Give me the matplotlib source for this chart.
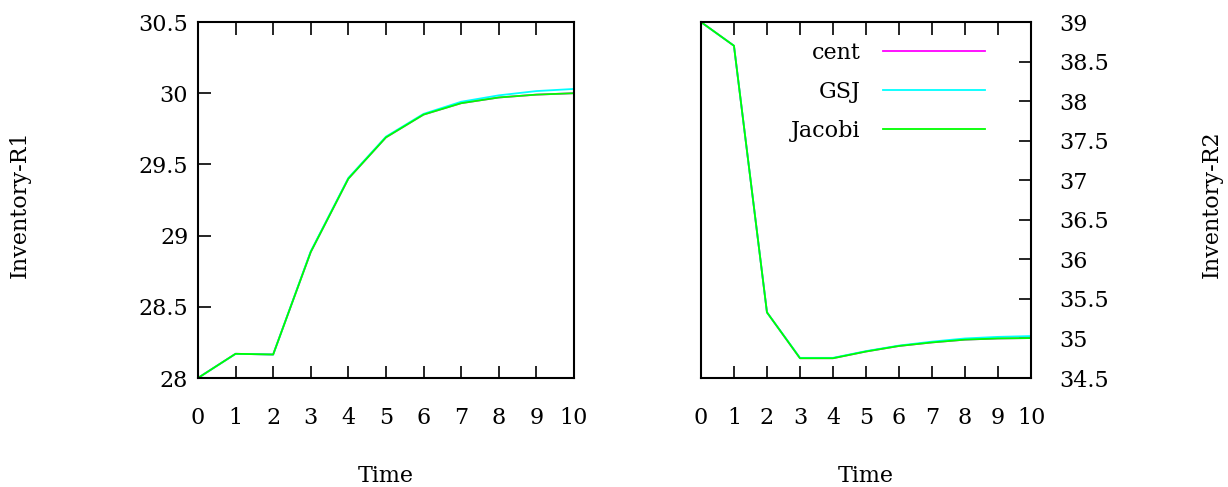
import matplotlib
matplotlib.use("Agg")
import matplotlib.pyplot as plt

time = [0, 1, 2, 3, 4, 5, 6, 7, 8, 9, 10]

# Inventory R1
r1_cent = [28.0, 28.17, 28.165, 28.885, 29.40, 29.69, 29.85, 29.93, 29.97, 29.99, 30.0]
r1_gsj = [28.0, 28.17, 28.165, 28.89, 29.405, 29.695, 29.855, 29.94, 29.985, 30.015, 30.03]
r1_jacobi = [28.0, 28.17, 28.165, 28.885, 29.40, 29.69, 29.85, 29.93, 29.97, 29.99, 30.0]

# Inventory R2
r2_cent = [39.0, 38.70, 35.33, 34.75, 34.75, 34.835, 34.905, 34.95, 34.985, 35.0, 35.005]
r2_gsj = [39.0, 38.70, 35.33, 34.755, 34.755, 34.84, 34.91, 34.96, 35.0, 35.02, 35.03]
r2_jacobi = [39.0, 38.70, 35.33, 34.75, 34.75, 34.835, 34.905, 34.95, 34.985, 35.0, 35.005]

series = ["cent", "GSJ", "Jacobi"]
colours = {"cent": "#ff00ff", "GSJ": "#00ffff", "Jacobi": "#00ff00"}

plt.rcParams["font.family"] = "DejaVu Serif"
plt.rcParams["font.size"] = 16

fig = plt.figure(figsize=(12.28, 4.87), dpi=100)
ax1 = fig.add_axes([0.1612, 0.2238, 0.3062, 0.731])
ax2 = fig.add_axes([0.5708, 0.2238, 0.2688, 0.731])

lw = 1.3
for name, vals in zip(series, [r1_cent, r1_gsj, r1_jacobi]):
    ax1.plot(time, vals, color=colours[name], lw=lw, label=name)
for name, vals in zip(series, [r2_cent, r2_gsj, r2_jacobi]):
    ax2.plot(time, vals, color=colours[name], lw=lw, label=name)

ax1.set_xlim(0, 10)
ax1.set_ylim(28, 30.5)
ax1.set_yticks([28, 28.5, 29, 29.5, 30, 30.5])
ax1.set_yticklabels(["28", "28.5", "29", "29.5", "30", "30.5"])
ax1.tick_params(axis="y", direction="in", length=9, width=1.2, right=False, pad=7)
ax1.set_ylabel("Inventory-R1", va="center", ha="center")
ax1.yaxis.set_label_coords(20 / 1228, 0.58, transform=fig.transFigure)

ax2.set_xlim(0, 10)
ax2.set_ylim(34.5, 39)
ax2.set_yticks([34.5, 35, 35.5, 36, 36.5, 37, 37.5, 38, 38.5, 39])
ax2.set_yticklabels(["34.5", "35", "35.5", "36", "36.5", "37", "37.5", "38", "38.5", "39"])
ax2.yaxis.tick_right()
ax2.yaxis.set_label_position("right")
ax2.tick_params(axis="y", direction="in", length=9, width=1.2, left=False, pad=20)
ax2.set_ylabel("Inventory-R2", va="center", ha="center")
ax2.yaxis.set_label_coords(1212 / 1228, 0.58, transform=fig.transFigure)

for ax in (ax1, ax2):
    ax.set_xticks(time)
    ax.tick_params(axis="x", direction="in", length=9, width=1.2, top=True, pad=21)
    ax.set_xlabel("Time", labelpad=26)
    for s in ax.spines.values():
        s.set_linewidth(1.5)

ax2.legend(loc="upper right", frameon=False, markerfirst=False, handlelength=4.6,
           handletextpad=1.0, labelspacing=0.75, borderaxespad=0.3, bbox_to_anchor=(0.907, 0.987))

fig.savefig("out.png", dpi=100)
